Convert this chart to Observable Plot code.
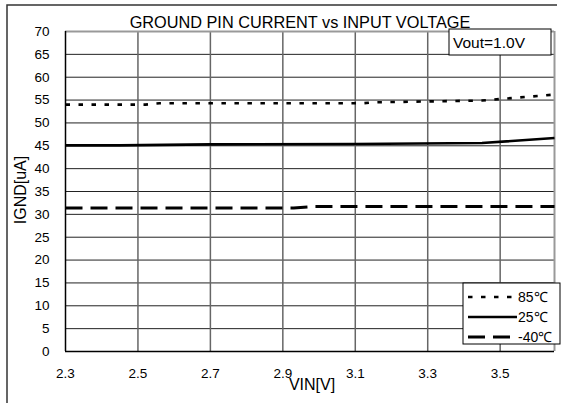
<!DOCTYPE html>
<html><head><meta charset="utf-8">
<script src="https://cdn.jsdelivr.net/npm/d3@7"></script>
<script src="https://cdn.jsdelivr.net/npm/@observablehq/plot@0.6"></script>
<style>body{margin:0;background:#fff} #chart{width:563px;height:403px}</style>
</head><body><div id="chart"></div>
<script>
const title = "GROUND PIN CURRENT vs INPUT VOLTAGE";
const xTitle = "VIN[V]";
const yTitle = "IGND[uA]";
const note = "Vout=1.0V";
const seriesNames = ["85℃", "25℃", "-40℃"];

const vin85  = [2.3, 2.52, 2.56, 3.12, 3.15, 3.45, 3.65];
const ignd85 = [54.0, 54.0, 54.3, 54.3, 54.5, 54.9, 56.2];
const vin25  = [2.3, 2.45, 2.7, 3.1, 3.45, 3.65];
const ignd25 = [45.1, 45.1, 45.3, 45.4, 45.6, 46.7];
const vinM40  = [2.3, 2.93, 2.98, 3.65];
const igndM40 = [31.4, 31.4, 31.7, 31.7];

const xTicks = [2.3, 2.5, 2.7, 2.9, 3.1, 3.3, 3.5];
const yTicks = [0, 5, 10, 15, 20, 25, 30, 35, 40, 45, 50, 55, 60, 65, 70];

const toRows = (xs, ys, s) => xs.map((x, i) => ({vin: x, ignd: ys[i], s}));
const rows85 = toRows(vin85, ignd85, seriesNames[0]);
const rows25 = toRows(vin25, ignd25, seriesNames[1]);
const rowsM40 = toRows(vinM40, igndM40, seriesNames[2]);

const styles = [
  {dash: "4.5,8.5", w: 2.6},
  {dash: null, w: 2.6},
  {dash: "17,8", w: 3}
];

const font = "'Liberation Sans', Arial, sans-serif";
const xmax = 3.65;

const plot = Plot.plot({
  width: 563, height: 403,
  marginLeft: 65, marginRight: 9, marginTop: 31, marginBottom: 52,
  x: {domain: [2.3, xmax]},
  y: {domain: [0, 70]},
  style: {fontFamily: font, background: "white", color: "black"},
  marks: [
    Plot.ruleY(yTicks.slice(1, -1), {stroke: "#222", strokeWidth: 1}),
    Plot.ruleX(xTicks.slice(1), {stroke: "#666", strokeWidth: 1.5}),
    Plot.ruleY([70], {stroke: "#999", strokeWidth: 2}),
    Plot.ruleX([xmax], {stroke: "#999", strokeWidth: 2}),
    Plot.ruleY([0], {stroke: "black", strokeWidth: 1.5}),
    Plot.ruleX([2.3], {stroke: "black", strokeWidth: 1.5}),
    Plot.line(rows85, {x: "vin", y: "ignd", stroke: "black", strokeWidth: styles[0].w, strokeDasharray: styles[0].dash, strokeLinecap: "butt"}),
    Plot.line(rows25, {x: "vin", y: "ignd", stroke: "black", strokeWidth: styles[1].w, strokeLinecap: "butt"}),
    Plot.line(rowsM40, {x: "vin", y: "ignd", stroke: "black", strokeWidth: styles[2].w, strokeDasharray: styles[2].dash, strokeLinecap: "butt"}),
    Plot.axisX({ticks: xTicks, tickFormat: d3.format(".1f"), tickSize: 0, tickPadding: 17, fontSize: 13.5, label: null}),
    Plot.axisY({ticks: yTicks, tickSize: 0, tickPadding: 16, fontSize: 13.5, label: null})
  ]
});

document.getElementById("chart").append(plot);
const svg = d3.select(plot);

// outer frame
svg.append("path").attr("d", "M7,403V5H557").attr("fill", "none").attr("stroke", "#333").attr("stroke-width", 1.5);

// title
svg.append("text").attr("x", 300).attr("y", 28).attr("text-anchor", "middle")
  .attr("font-size", 16.3).attr("font-family", font).text(title);

// axis titles
svg.append("text").attr("x", 312).attr("y", 390).attr("text-anchor", "middle")
  .attr("font-size", 16).attr("font-family", font).text(xTitle);
svg.append("text").attr("transform", "translate(26,190) rotate(-90)").attr("text-anchor", "middle")
  .attr("font-size", 16).attr("font-family", font).text(yTitle);

// Vout note
const ng = svg.append("g");
ng.append("rect").attr("x", 449).attr("y", 29).attr("width", 102).attr("height", 26)
  .attr("fill", "white").attr("stroke", "black").attr("stroke-width", 1);
ng.append("text").attr("x", 453).attr("y", 47.5).attr("text-anchor", "start")
  .attr("font-size", 15.5).attr("font-family", font).text(note);

// legend
const lg = svg.append("g");
lg.append("rect").attr("x", 463).attr("y", 283).attr("width", 97).attr("height", 61)
  .attr("fill", "white").attr("stroke", "black").attr("stroke-width", 1);
seriesNames.forEach((name, i) => {
  const yy = 297 + i * 20;
  lg.append("line").attr("x1", 468).attr("x2", 517).attr("y1", yy).attr("y2", yy)
    .attr("stroke", "black").attr("stroke-width", styles[i].w)
    .attr("stroke-dasharray", styles[i].dash).attr("stroke-linecap", "butt");
  lg.append("text").attr("x", 518).attr("y", yy + 5).attr("text-anchor", "start")
    .attr("font-size", 14).attr("font-family", font).text(name);
});
</script>
</body></html>
